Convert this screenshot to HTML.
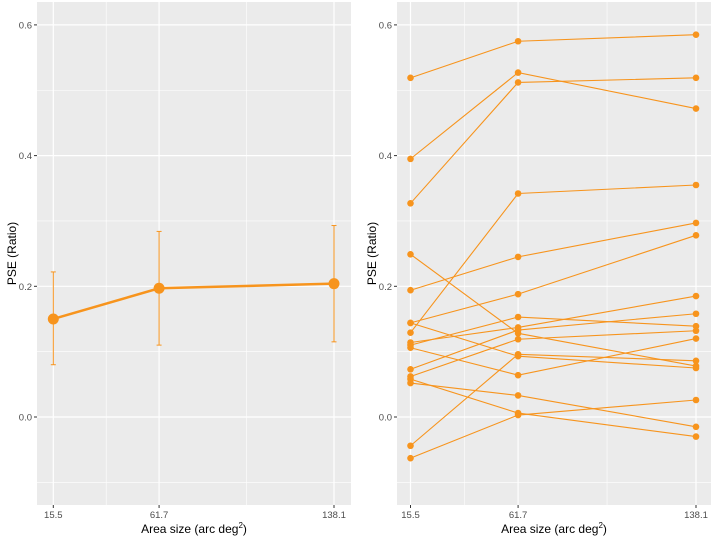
<!DOCTYPE html>
<html><head><meta charset="utf-8"><style>
body{margin:0;background:#fff;}
svg{display:block;font-family:"Liberation Sans",sans-serif;}
</style></head><body>
<svg id="chart" width="714" height="541" xmlns="http://www.w3.org/2000/svg"></svg>
<script>
const categories = [15.5, 61.7, 138.1];
const categoryLabels = ["15.5", "61.7", "138.1"];
const yTicks = [0.0, 0.2, 0.4, 0.6];
const yTickLabels = ["0.0", "0.2", "0.4", "0.6"];
const meanValues = [0.150, 0.197, 0.204];
const errUpper = [0.222, 0.284, 0.293];
const errLower = [0.080, 0.110, 0.115];
const s01 = [0.519, 0.575, 0.585];
const s02 = [0.395, 0.527, 0.472];
const s03 = [0.327, 0.512, 0.519];
const s04 = [0.249, 0.128, 0.078];
const s05 = [0.194, 0.245, 0.297];
const s06 = [0.129, 0.342, 0.355];
const s07 = [0.144, 0.188, 0.278];
const s08 = [0.114, 0.137, 0.185];
const s09 = [0.110, 0.153, 0.139];
const s10 = [0.106, 0.064, 0.120];
const s11 = [0.073, 0.133, 0.158];
const s12 = [0.062, 0.119, 0.132];
const s13 = [0.058, 0.006, -0.030];
const s14 = [0.052, 0.033, -0.015];
const s15 = [-0.044, 0.096, 0.086];
const s16 = [-0.063, 0.003, 0.026];
const s17 = [0.144, 0.093, 0.075];
const subjects = [s01,s02,s03,s04,s05,s06,s07,s08,s09,s10,s11,s12,s13,s14,s15,s16,s17];

const NS="http://www.w3.org/2000/svg";
const svg=document.getElementById('chart');
const COL="#F7941D";
function mk(tag,attrs,parent){const e=document.createElementNS(NS,tag);for(const k in attrs)e.setAttribute(k,attrs[k]);(parent||svg).appendChild(e);return e;}
const yTop=2,yBot=505;
function yScale(v){return 417-653.5*v;}
function makeX(x0,x1){return v=>x0+(v-15.5)*(x1-x0)/(138.1-15.5);}

function panel(name,left,right,xa,xb){
  const g=mk('g',{});
  
  
  const bg=mk('rect',{x:left,y:yTop,width:right-left,height:yBot-yTop,fill:'#EBEBEB'},g);
  
  
  const xs=makeX(xa,xb);
  // minor grid
  for(let i=0;i<yTicks.length+1;i++){
    const v=-0.1+0.2*i;
    mk('line',{x1:left,x2:right,y1:yScale(v),y2:yScale(v),stroke:'#fff','stroke-width':0.6},g);
  }
  for(let i=0;i<categories.length-1;i++){
    const v=(categories[i]+categories[i+1])/2;
    mk('line',{x1:xs(v),x2:xs(v),y1:yTop,y2:yBot,stroke:'#fff','stroke-width':0.6},g);
  }
  yTicks.forEach((v,i)=>{
    mk('line',{x1:left,x2:right,y1:yScale(v),y2:yScale(v),stroke:'#fff','stroke-width':1.2},g);
    mk('line',{x1:left-3,x2:left,y1:yScale(v),y2:yScale(v),stroke:'#333','stroke-width':1},g);
    const t=mk('text',{x:left-5,y:yScale(v)+3.5,'text-anchor':'end','font-size':9.5,fill:'#4D4D4D'},g);
    t.textContent=yTickLabels[i];
    
    
  });
  categories.forEach((c,i)=>{
    mk('line',{x1:xs(c),x2:xs(c),y1:yTop,y2:yBot,stroke:'#fff','stroke-width':1.2},g);
    mk('line',{x1:xs(c),x2:xs(c),y1:yBot,y2:yBot+3,stroke:'#333','stroke-width':1},g);
    const t=mk('text',{x:xs(c),y:yBot+13,'text-anchor':'middle','font-size':9.5,fill:'#4D4D4D'},g);
    t.textContent=categoryLabels[i];
    
    
  });
  const xt=mk('text',{x:(left+right)/2,y:533,'text-anchor':'middle','font-size':12,fill:'#000'},g);
  xt.innerHTML='Area size (arc deg<tspan dy="-5" font-size="8">2</tspan><tspan dy="5">)</tspan>';
  
  
  const yt=mk('text',{x:0,y:0,'text-anchor':'middle','font-size':12,fill:'#000',transform:`translate(${left-21},${(yTop+yBot)/2}) rotate(-90)`},g);
  yt.textContent='PSE (Ratio)';
  
  
  return {g,xs};
}

const L=panel('mean-panel',37,351,53.3,334);
const R=panel('individual-panel',397,711,410.5,696);

// left: error bars + mean line
categories.forEach((c,i)=>{
  const x=L.xs(c);
  const eb=mk('g',{stroke:COL,'stroke-width':1},L.g);
  
  
  mk('line',{x1:x,x2:x,y1:yScale(errUpper[i]),y2:yScale(errLower[i])},eb);
  mk('line',{x1:x-2.5,x2:x+2.5,y1:yScale(errUpper[i]),y2:yScale(errUpper[i])},eb);
  mk('line',{x1:x-2.5,x2:x+2.5,y1:yScale(errLower[i]),y2:yScale(errLower[i])},eb);
});
const ml=mk('polyline',{points:categories.map((c,i)=>L.xs(c)+','+yScale(meanValues[i])).join(' '),fill:'none',stroke:COL,'stroke-width':2.5},L.g);


categories.forEach((c,i)=>{
  const p=mk('circle',{cx:L.xs(c),cy:yScale(meanValues[i]),r:5.5,fill:COL},L.g);
  
  
});

// right: individual lines
subjects.forEach(s=>{
  const ln=mk('polyline',{points:categories.map((c,i)=>R.xs(c)+','+yScale(s[i])).join(' '),fill:'none',stroke:COL,'stroke-width':1.1},R.g);
  
  
});
subjects.forEach(s=>{
  categories.forEach((c,i)=>{
    const p=mk('circle',{cx:R.xs(c),cy:yScale(s[i]),r:3.3,fill:COL},R.g);
    
    
  });
});
</script>
</body></html>
